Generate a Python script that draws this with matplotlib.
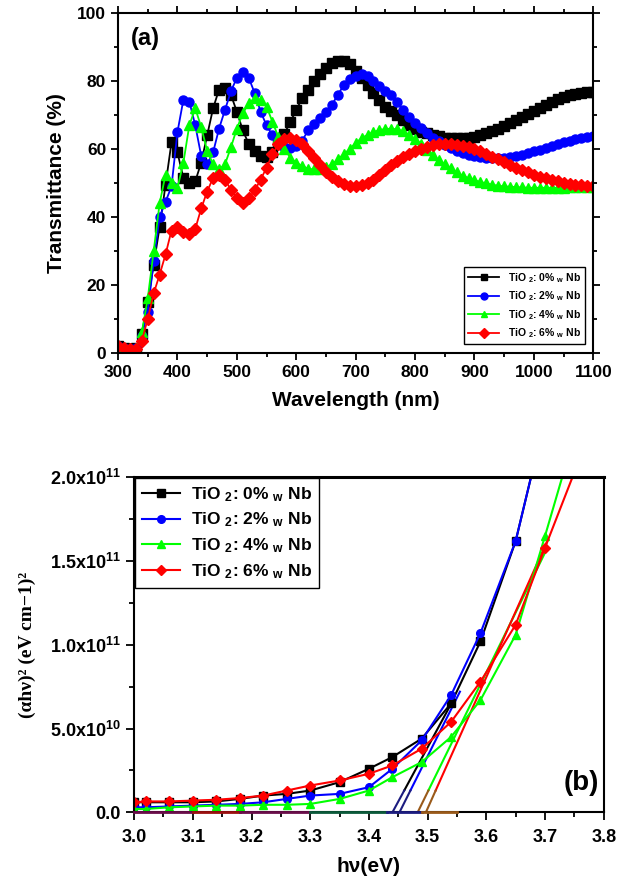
import matplotlib
matplotlib.use("Agg")
import matplotlib.pyplot as plt
from matplotlib.ticker import MultipleLocator, FixedLocator, FixedFormatter

plt.rcParams['font.family'] = ['Liberation Sans', 'DejaVu Sans']
plt.rcParams['font.weight'] = 'bold'
plt.rcParams['mathtext.fontset'] = 'custom'
plt.rcParams['mathtext.rm'] = 'Liberation Sans:bold'
plt.rcParams['mathtext.it'] = 'Liberation Sans:bold'
plt.rcParams['mathtext.bf'] = 'Liberation Sans:bold'
plt.rcParams['mathtext.default'] = 'rm'

# ---- (a) transmittance data ----
wavelength = list(range(300, 1101, 10))

t_0 = [2.0, 1.5, 1.0, 1.5, 5.5, 15, 26, 37, 49.5, 62, 59, 51.5, 50, 50.5, 56, 64, 72, 77.5, 78, 76,
       71, 65.5, 61.5, 59.5, 58, 57.8, 59, 61.5, 64.5, 68, 71.5, 75, 77.5, 80, 82, 84, 85.3, 86, 86, 85,
       83, 81, 79, 76.5, 74.5, 72.5, 71.3, 70, 68.5, 67, 66, 65, 64.6, 64.2, 63.7, 63.4, 63.2, 63.2, 63.2, 63.4,
       63.6, 64, 64.6, 65.3, 66, 66.8, 67.6, 68.5, 69.4, 70.3, 71.2, 72.1, 73, 73.8, 74.6, 75.2, 75.8, 76.2, 76.5, 76.7,
       76.8]
t_2 = [2.0, 1.5, 1.0, 1.5, 5, 12, 27, 40, 44.5, 49, 65, 74.5, 74, 67, 58, 55.5, 59, 66, 71.5, 77,
       81, 82.8, 81, 76.5, 71, 67, 64, 62, 60.5, 60.2, 60.8, 62.5, 65.5, 67.5, 69, 70.8, 73, 76, 78.8, 80.5,
       81.5, 82, 81.5, 80, 78.5, 77, 75.8, 73.8, 71.5, 69.5, 67.8, 66.2, 64.8, 63.4, 62.4, 61.3, 60.3, 59.5, 58.8, 58.3,
       57.9, 57.6, 57.4, 57.3, 57.3, 57.4, 57.6, 58, 58.3, 58.8, 59.3, 59.8, 60.4, 61, 61.5, 62, 62.5, 62.9, 63.3, 63.6,
       63.9]
t_4 = [2.0, 1.5, 1.0, 1.5, 6, 16, 30, 44, 52.5, 50, 48.5, 56, 67, 72, 66.5, 59.5, 55.5, 54, 55.5, 60.5,
       66, 70.5, 73.5, 75, 74.5, 72.5, 68, 63.5, 60, 57.5, 56, 55, 54.2, 54, 54.2, 54.6, 55.5, 57, 58.5, 60,
       61.8, 63.2, 64.2, 65, 65.6, 65.9, 66, 65.8, 65.2, 64.2, 63, 61.5, 59.8, 58.2, 56.7, 55.5, 54.3, 53.2, 52.2, 51.4,
       50.8, 50.3, 49.9, 49.5, 49.2, 49, 48.9, 48.8, 48.7, 48.6, 48.6, 48.6, 48.6, 48.6, 48.6, 48.6, 48.7, 48.7, 48.8, 48.8,
       48.9]
t_6 = [2.0, 1.5, 1.0, 1.2, 3.5, 10, 17.5, 23, 29, 36, 37, 35.5, 35, 36.5, 42.5, 47.5, 51.5, 52.5, 51, 48,
       45.5, 44.2, 45.5, 47.8, 51, 54.5, 58.5, 61.5, 63, 63.3, 62.8, 61.5, 59.5, 57.3, 55.2, 53.3, 51.8, 50.5, 49.6, 49.1,
       49, 49.3, 50, 51, 52.3, 53.8, 55.2, 56.5, 57.6, 58.6, 59.4, 60.1, 60.7, 61.1, 61.4, 61.5, 61.5, 61.3, 61.0, 60.6,
       60.1, 59.4, 58.6, 57.8, 57, 56.1, 55.3, 54.5, 53.8, 53.1, 52.5, 51.9, 51.4, 50.9, 50.5, 50.1, 49.8, 49.5, 49.3, 49.1,
       49]

labels = [r"TiO $_2$: 0% $_w$ Nb", r"TiO $_2$: 2% $_w$ Nb",
          r"TiO $_2$: 4% $_w$ Nb", r"TiO $_2$: 6% $_w$ Nb"]
colors = ['black', '#0000ff', '#00ff00', '#ff0000']
markers = ['s', 'o', '^', 'D']

# ---- (b) Tauc plot data (units of 1e10) ----
hv = [3.00, 3.02, 3.06, 3.10, 3.14, 3.18, 3.22, 3.26, 3.30, 3.35, 3.40, 3.44, 3.49, 3.54, 3.59, 3.65, 3.70, 3.75]
a_0 = [0.6, 0.6, 0.6, 0.6, 0.65, 0.8, 1.0, 1.1, 1.3, 1.8, 2.6, 3.3, 4.4, 6.5, 10.2, 16.2, 23.5, 31]
a_2 = [0.3, 0.3, 0.35, 0.4, 0.45, 0.5, 0.6, 0.8, 1.0, 1.1, 1.5, 2.6, 4.3, 7.0, 10.7, 16.2, 23.5, 31]
a_4 = [0.2, 0.2, 0.3, 0.35, 0.4, 0.4, 0.45, 0.45, 0.5, 0.8, 1.3, 2.1, 3.0, 4.5, 6.7, 10.6, 16.5, 22.5]
a_6 = [0.6, 0.65, 0.65, 0.7, 0.75, 0.85, 1.0, 1.3, 1.6, 1.9, 2.3, 2.8, 3.8, 5.4, 7.8, 11.2, 15.8, 20.3]

# linear extrapolations to the energy axis (start eV, end eV, end value)
tan_start = [3.440, 3.452, 3.483, 3.497]
tan_end = [3.545, 3.555, 3.700, 3.705]
tan_top = [6.8, 7.2, 15.5, 16.3]
tan_low_colors = ['#1c1c80', '#1c1c80', '#9a5a1a', '#9a5a1a']
tan_low_top = 1.3

# coloured baseline pieces lying on the energy axis
base_x0 = [3.00, 3.10, 3.18, 3.30, 3.43, 3.49]
base_x1 = [3.10, 3.18, 3.30, 3.43, 3.49, 3.55]
base_colors = ['#6a0d4a', '#9b1010', '#6a0d4a', '#0b5a3a', '#1c1c80', '#9a5a1a']

fig = plt.figure(figsize=(6.18, 8.82), dpi=100)

# ================= panel (a) =================
ax1 = fig.add_axes([0.191, 0.600, 0.769, 0.385])
for y, c, m, lab in zip([t_0, t_2, t_4, t_6], colors, markers, labels):
    ms = 6 if m == 'D' else 6.5
    ax1.plot(wavelength, y, color=c, marker=m, ms=ms, lw=1.3, label=lab)

ax1.set_xlim(300, 1100)
ax1.set_ylim(0, 100)
ax1.xaxis.set_major_locator(MultipleLocator(100))
ax1.xaxis.set_minor_locator(MultipleLocator(50))
ax1.yaxis.set_major_locator(MultipleLocator(20))
ax1.yaxis.set_minor_locator(MultipleLocator(10))
ax1.tick_params(which='both', direction='out', labelsize=12.5, width=1.3)
ax1.tick_params(which='major', length=5)
ax1.tick_params(which='minor', length=3)
ax1.tick_params(which='both', top=True, right=True, labeltop=False, labelright=False)
for sp in ax1.spines.values():
    sp.set_linewidth(1.5)
ax1.set_xlabel("Wavelength (nm)", fontsize=15, fontweight='bold', labelpad=8)
ax1.set_ylabel("Transmittance (%)", fontsize=15, fontweight='bold', labelpad=8)
ax1.text(0.027, 0.925, "(a)", transform=ax1.transAxes, fontsize=17, fontweight='bold', va='center')
leg1 = ax1.legend(loc='lower right', frameon=True, fancybox=False, edgecolor='black',
                  framealpha=1, handlelength=3.0, borderaxespad=0.8, labelspacing=0.45,
                  prop={'weight': 'bold', 'size': 7.5})
for h in leg1.legend_handles:
    h.set_markersize(5)

# ================= panel (b) =================
ax2 = fig.add_axes([0.217, 0.079, 0.760, 0.380])
for x0, x1, c in zip(base_x0, base_x1, base_colors):
    ax2.plot([x0, x1], [0, 0], color=c, lw=2, clip_on=False, zorder=3)

for xs, xe, ye, c, cl in zip(tan_start, tan_end, tan_top, colors, tan_low_colors):
    slope = ye / (xe - xs)
    xm = xs + tan_low_top / slope
    ax2.plot([xm, xe], [tan_low_top * 1e10, ye * 1e10], color=c, lw=1.5)
    ax2.plot([xs, xm], [0, tan_low_top * 1e10], color=cl, lw=1.5)

for y, c, m, lab in zip([a_0, a_2, a_4, a_6], colors, markers, labels):
    ms = 5 if m == 'D' else 5.5
    ax2.plot(hv, [v * 1e10 for v in y], color=c, marker=m, ms=ms, lw=1.5, label=lab)

ax2.set_xlim(3.0, 3.8)
ax2.set_ylim(0, 2e11)
ax2.xaxis.set_major_locator(MultipleLocator(0.1))
ax2.xaxis.set_minor_locator(MultipleLocator(0.05))
ytick_vals = [0, 5e10, 1e11, 1.5e11, 2e11]
ytick_text = ["0.0", r"5.0x10$^{10}$", r"1.0x10$^{11}$", r"1.5x10$^{11}$", r"2.0x10$^{11}$"]
ax2.yaxis.set_major_locator(FixedLocator(ytick_vals))
ax2.yaxis.set_major_formatter(FixedFormatter(ytick_text))
ax2.yaxis.set_minor_locator(MultipleLocator(2.5e10))
ax2.tick_params(which='both', direction='out', labelsize=13, width=1.3)
ax2.tick_params(which='major', length=6)
ax2.tick_params(which='minor', length=3.5)
ax2.tick_params(axis='x', pad=6)
for sp in ax2.spines.values():
    sp.set_linewidth(1.5)
ax2.spines['top'].set_linewidth(2.2)
ax2.set_xlabel("hν(eV)", fontsize=15, fontweight='bold', labelpad=8)
ax2.set_ylabel("(αhν)² (eV cm−1)²", fontsize=14, fontweight='bold',
               family=['Liberation Serif', 'DejaVu Serif'], labelpad=10)
ax2.text(0.99, 0.087, "(b)", transform=ax2.transAxes, fontsize=20, fontweight='bold',
         ha='right', va='center')
ax2.legend(loc='upper left', frameon=True, fancybox=False, edgecolor='black', framealpha=1,
           handlelength=2.2, handletextpad=0.6, borderaxespad=0.05, labelspacing=0.4,
           prop={'weight': 'bold', 'size': 12.5})

fig.savefig("out.png", dpi=100)
